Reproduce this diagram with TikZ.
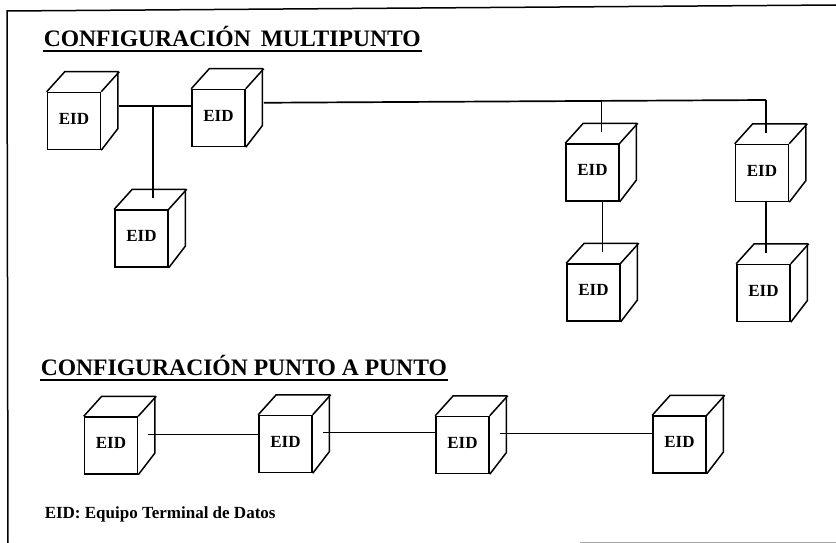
\documentclass[tikz,border=0pt]{standalone}
\usepackage{fontspec}
\setmainfont{Liberation Serif}
\usetikzlibrary{positioning}
\tikzset{
  font={\fontsize{17pt}{18pt}\selectfont\bfseries},
  eid/.style={draw, shape=rectangle, minimum width=53pt, minimum height=57pt, inner sep=0pt, text depth=5pt,
    append after command={
      \pgfextra{
        \draw (\tikzlastnode.north west) -- ++(18,-20) -- ++(53,0) -- ++(0,57) -- (\tikzlastnode.south east);
        \draw (\tikzlastnode.north east) -- ++(18,-20);
        \coordinate (\tikzlastnode-top) at ([shift={(9pt,11pt)}]\tikzlastnode.north);
        \coordinate (\tikzlastnode-rear) at ([shift={(18pt,-14pt)}]\tikzlastnode.north east);
        \coordinate (\tikzlastnode-side) at ([shift={(10pt,-18pt)}]\tikzlastnode.north east);
      }}},
  ttl/.style={inner sep=0pt, anchor=base west, font={\fontsize{23.6pt}{25pt}\selectfont\bfseries}},
  note/.style={inner sep=0pt, anchor=base west, font={\fontsize{17pt}{18pt}\selectfont\bfseries}},
  link/.style={-, line width=1.7pt},
  thinlink/.style={-, line width=1.1pt}}

\begin{document}
\begin{tikzpicture}[x=1pt, y=-1pt, line width=1.5pt]
  \useasboundingbox (0,0) rectangle (836,543);
  % page frame
  \draw (836,5) -- (7,11) -- (8,543);
  \draw[black!35, line width=1pt] (580,542) -- (836,542);
  % headings
  \node (ttl1) [ttl] at (43,47) {CONFIGURACIÓN\hspace{4pt} MULTIPUNTO};
  \node (ttl2) [ttl] at (40,375) {CONFIGURACIÓN PUNTO A PUNTO};
  \node (key) [note] at (44,518) {EID: Equipo Terminal de Datos};
  \draw ([yshift=-4pt]ttl1.base west) -- ([yshift=-4pt]ttl1.base east);
  \draw ([yshift=-5pt]ttl2.base west) -- ([yshift=-5pt]ttl2.base east);
  % multipoint
  \node (m1) [eid] at (74,121) {EID};
  \node (m2) [eid] at (218.5,118) {EID};
  \node (m3) [eid] at (141.5,238.5) {EID};
  \node (m4) [eid] at (592.5,172.5) {EID};
  \node (m5) [eid] at (593.5,292.5) {EID};
  \node (m6) [eid] at (762,173) {EID};
  \node (m7) [eid] at (763.5,293) {EID};
  % point to point
  \node (p1) [eid] at (111,445.5) {EID};
  \node (p2) [eid] at (285.5,444) {EID};
  \node (p3) [eid] at (462.5,445) {EID};
  \node (p4) [eid] at (679.5,444.5) {EID};
  \coordinate (tee) at (153,106);
  \coordinate (cnr) at (766,100);
  \draw[link] (m1-rear) -- (m2.west |- m1-rear);
  \draw[link] (tee) -- (tee |- m3-top);
  \draw[link] (m2-rear) -- (cnr);
  \draw[link] (cnr) -- (cnr |- m6-top);
  \draw[link] (m4-top |- cnr) -- (m4-top);
  \draw[link] (m5-top |- m4.south) -- (m5-top);
  \draw[link] (cnr |- m6.south) -- (cnr |- m7-top);
  \draw[thinlink] (p1-side) -- (p1-side -| p2.west);
  \draw[thinlink] (p2-side) -- (p2-side -| p3.west);
  \draw[thinlink] (p3-side) -- (p3-side -| p4.west);
\end{tikzpicture}
\end{document}
